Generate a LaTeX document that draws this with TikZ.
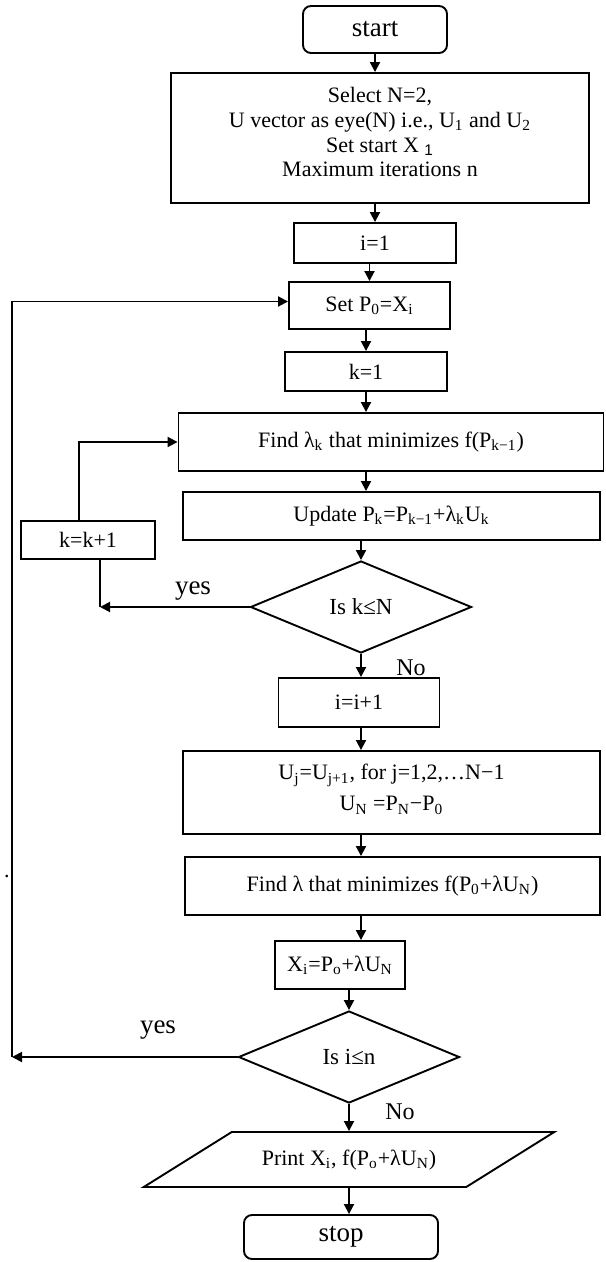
\documentclass[tikz,border=0pt]{standalone}
\usepackage{fontspec}
\setmainfont{Liberation Serif}
\setsansfont{Liberation Sans}
\usepackage{tikz}
\usetikzlibrary{positioning,calc,arrows.meta,shapes.geometric}
\newcommand{\lo}[1]{\textsubscript{#1}}

\begin{document}
\begin{tikzpicture}[x=0.5pt,y=-0.5pt,line width=0.95pt,
    box/.style={rectangle,draw,inner sep=1pt,align=center,font=\fontsize{11}{12.3}\selectfont},
    term/.style={rectangle,draw,rounded corners=4pt,font=\fontsize{13.5}{16}\selectfont},
    decide/.style={diamond,draw,inner sep=0pt,minimum width=110.5pt,minimum height=46pt,font=\fontsize{11.5}{14}\selectfont},
    io/.style={trapezium,draw,trapezium left angle=32,trapezium right angle=148,inner xsep=15pt,inner ysep=8.5pt,text height=8pt,text depth=2.5pt,font=\fontsize{11}{13}\selectfont},
    lbl/.style={inner sep=0pt,font=\fontsize{13.5}{16}\selectfont},
    nolbl/.style={inner sep=0pt,font=\fontsize{12}{14}\selectfont},
    arr/.style={-{Triangle[length=5pt,width=5pt]}}]
\useasboundingbox (0,0) rectangle (605,1262);

\node[term,minimum width=72pt,minimum height=23.5pt] (start) at (375,29.5) {start};
\node[box,minimum width=209pt,minimum height=65pt] (init) at (380,138) {Select N=2,\\U vector as eye(N) i.e., U\lo{1} and U\lo{2}\\Set start X \lo{\sffamily 1}\\Maximum iterations n\\[-6.5pt]};
\node[box,minimum width=81pt,minimum height=20pt] (i1) at (375,243) {i=1};
\node[box,minimum width=80.5pt,minimum height=23.5pt] (setp) at (369.5,305.5) {Set P\lo{0}=X\lo{i}};
\node[box,minimum width=81pt,minimum height=19.5pt] (k1) at (366,371.5) {k=1};
\node[box,minimum width=212.5pt,minimum height=29pt] (findk) at (391,442) {Find λ\lo{k} that minimizes f(P\lo{k−1})};
\node[box,minimum width=208.5pt,minimum height=24pt] (upd) at (391.5,516) {Update P\lo{k}=P\lo{k−1}+λ\lo{k}U\lo{k}};
\node[box,minimum width=67pt,minimum height=19pt] (kinc) at (88,540) {k=k+1};
\node[decide] (kchk) at (361,607) {Is k≤N};
\node[box,minimum width=80.5pt,minimum height=24.5pt] (iinc) at (359,702.5) {i=i+1};
\node[box,minimum width=208.5pt,minimum height=41.5pt] (shift) at (391.5,792.5) {U\lo{j}=U\lo{j+1}, for j=1,2,…N−1\\[3.2pt]U\lo{N} =P\lo{N}−P\lo{0}\\[-7.3pt]};
\node[box,minimum width=207.5pt,minimum height=29pt] (findl) at (392.5,886) {Find λ that minimizes f(P\lo{0}+λU\lo{N})};
\node[box,minimum width=65pt,minimum height=24pt] (xnew) at (340,965) {X\lo{i}=P\lo{o}+λU\lo{N}};
\node[decide] (ichk) at (349,1057) {Is i≤n};
\node[io] (print) at (349,1159.5) {Print X\lo{i}, f(P\lo{o}+λU\lo{N})};
\node[term,minimum width=97pt,minimum height=22pt] (stop) at (341,1237) {stop};

\draw[arr] (start) -- (init.north -| start);
\draw[arr] (init.south -| i1) -- (i1);
\draw[arr] (i1.south -| setp) -- (setp);
\draw[arr] (setp.south -| k1) -- (k1);
\draw[arr] (k1) -- (findk.north -| k1);
\draw[arr] (findk.south -| k1) -- (upd.north -| k1);
\draw[arr] (upd.south -| kchk) -- (kchk);
\draw[arr] (kchk) -- (iinc.north -| kchk);
\draw[arr] (iinc.south -| kchk) -- (shift.north -| kchk);
\draw[arr] (shift.south -| kchk) -- (findl.north -| kchk);
\draw[arr] (findl.south -| kchk) -- (xnew.north -| kchk);
\draw[arr] (xnew.south -| ichk) -- (ichk);
\draw[arr] (ichk) -- (print.north -| ichk);
\draw[arr] (print.south -| ichk) -- (stop.north -| ichk);

\coordinate (kret) at (100,607);
\coordinate (kup) at (79,540);
\draw[arr] (kchk.west) -- (kret);
\draw (kinc.south -| kret) -- (kret);
\draw[arr] (kinc.north -| kup) |- (findk.west);
\node[lbl] (kyes) at (193,591) {yes};
\node[nolbl] (kno) at (411,668) {No};

\coordinate (iret) at (12,1057);
\draw[arr] (ichk.west) -- (iret);
\draw[arr] (iret) |- ([yshift=2pt]setp.west);
\node[lbl] (iyes) at (158,1030) {yes};
\node[nolbl] (ino) at (400,1112) {No};
\node[inner sep=0pt,font=\fontsize{11}{13}\selectfont] (dot) at (7,877) {.};
\end{tikzpicture}
\end{document}
